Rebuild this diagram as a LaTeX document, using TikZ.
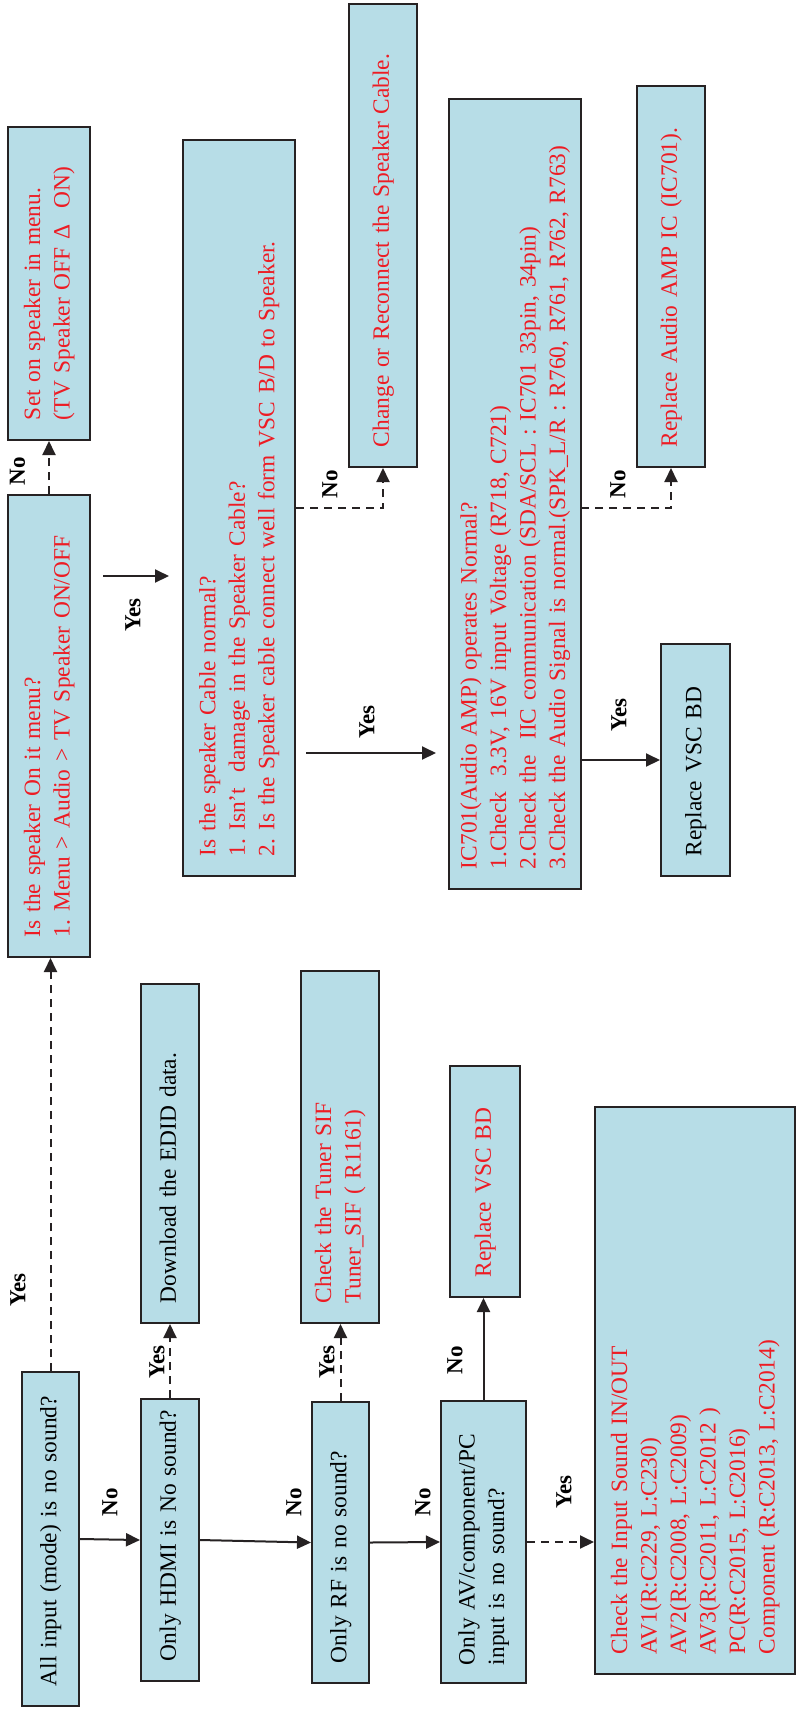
\documentclass[tikz,border=0pt]{standalone}
\usepackage{fontspec}
\setmainfont{Liberation Serif}
\usetikzlibrary{arrows.meta}
\frenchspacing
\definecolor{txtred}{RGB}{237,28,36}
\definecolor{boxfill}{RGB}{183,221,231}
\definecolor{edgecol}{RGB}{38,34,35}
\newcommand{\LNS}[1]{\begin{tabular}{@{}l@{}}#1\end{tabular}}
\tikzset{
  box/.style={draw=edgecol, line width=2pt, fill=boxfill, rotate=90, align=left,
    inner xsep=20pt, inner ysep=2pt, anchor=center, font=\fontsize{23.4}{29.5}\selectfont},
  redtext/.style={text=txtred},
  blacktext/.style={text=black},
  arr/.style={line width=2pt, draw=edgecol, -{Triangle[length=14pt,width=13pt]}},
  dsh/.style={arr, dash pattern=on 8pt off 6pt},
  lbl/.style={rotate=90, inner sep=0pt, font=\fontsize{23}{27}\selectfont\bfseries}
}
\begin{document}
\begin{tikzpicture}[x=1pt,y=1pt]
\useasboundingbox (0,0) rectangle (796,-1709);
\fill[white] (0,0) rectangle (796,-1709);

% bottom row of questions
\node[box, blacktext, minimum width=334pt, minimum height=57pt, text width=294pt] (A) at (50.5,-1539) {\LNS{All input (mode) is no sound?}};
\node[box, blacktext, minimum width=282pt, minimum height=58pt, text width=242pt] (H) at (170,-1540) {\LNS{Only HDMI is No sound?}};
\node[box, blacktext, minimum width=281pt, minimum height=57pt, text width=241pt] (R) at (340.5,-1542.5) {\LNS{Only RF is no sound?}};
\node[box, blacktext, minimum width=282pt, minimum height=85pt, text width=246pt, inner xsep=18pt] (AV) at (483.5,-1542) {\LNS{Only AV/component/PC\\input is no sound?}};

% results of bottom row
\node[box, blacktext, minimum width=339pt, minimum height=58pt, text width=299pt] (DL) at (170,-1153.5) {\LNS{Download the EDID data.}};
\node[box, redtext, minimum width=352pt, minimum height=78pt, text width=312pt] (TS) at (340,-1147) {\LNS{Check the Tuner SIF\\Tuner\_SIF ( R1161)}};
\node[box, redtext, minimum width=231pt, minimum height=70pt, text width=191pt] (RV2) at (485,-1181.5) {\LNS{Replace VSC BD}};
\node[box, redtext, minimum width=567pt, minimum height=200pt, text width=527pt] (BIG) at (695,-1390.5) {\LNS{Check the Input Sound IN/OUT\\AV1(R:C229, L:C230)\\AV2(R:C2008, L:C2009)\\AV3(R:C2011, L:C2012 )\\PC(R:C2015, L:C2016)\\Component (R:C2013, L:C2014)}};

% upper part
\node[box, redtext, minimum width=462pt, minimum height=82pt, text width=422pt] (S) at (49,-726) {\LNS{Is the speaker On it menu?\\1. Menu > Audio > TV Speaker ON/OFF}};
\node[box, redtext, minimum width=313pt, minimum height=82pt, text width=273pt] (SO) at (49,-283.5) {\LNS{Set on speaker in menu.\\(TV Speaker OFF Δ\ \ ON)}};
\node[box, redtext, minimum width=736pt, minimum height=112pt, text width=696pt] (CB) at (239,-508) {\LNS{Is the speaker Cable normal?\\1. Isn’t\ \ damage in the Speaker Cable?\\2. Is the Speaker cable connect well form VSC B/D to Speaker.}};
\node[box, redtext, minimum width=463pt, minimum height=68pt, text width=423pt] (CH) at (383,-235.5) {\LNS{Change or Reconnect the Speaker Cable.}};
\node[box, redtext, minimum width=790pt, minimum height=132pt, text width=750pt] (IC) at (515,-494) {\LNS{IC701(Audio AMP) operates Normal?\\1.Check\ \ 3.3V, 16V input Voltage (R718, C721)\\2.Check the\ \ IIC communication (SDA/SCL : IC701 33pin, 34pin)\\3.Check the Audio Signal is normal.(SPK\_L/R : R760, R761, R762, R763)}};
\node[box, redtext, minimum width=381pt, minimum height=68pt, text width=341pt] (RA) at (671,-276.5) {\LNS{Replace Audio AMP IC (IC701).}};
\node[box, blacktext, minimum width=232pt, minimum height=69pt, text width=192pt] (RV1) at (695.5,-760) {\LNS{Replace VSC BD}};

% connectors, bottom row
\draw[arr] (A.south) -- (H.north);
\draw[arr] (H.south) -- (R.north);
\draw[arr] (R.south) -- (AV.north);
\draw[dsh] (AV.south) -- (AV.south -| BIG.north);
\draw[dsh] (H.east) -- (H.east |- DL.west);
\draw[dsh] (R.east) -- (R.east |- TS.west);
\draw[arr] (AV.east) -- (AV.east |- RV2.west);
\draw[dsh] (A.east) -- (A.east |- S.west);

% connectors, upper part
\draw[dsh] (S.east) -- (S.east |- SO.west);
\coordinate (f1s) at (103,-576);
\coordinate (f1e) at (169,-576);
\draw[arr] (f1s) -- (f1e);
\draw[dsh] (CB.south) -| (CH.west);
\coordinate (f2s) at (306,-753);
\coordinate (f2e) at (436,-753);
\draw[arr] (f2s) -- (f2e);
\coordinate (icno) at (581,-508);
\draw[dsh] (icno) -| (RA.west);
\draw[arr] (RV1.north -| IC.south) -- (RV1.north);

% labels
\node[lbl] (l1) at (110,-1502) {No};
\node[lbl] (l2) at (294,-1502) {No};
\node[lbl] (l3) at (423,-1502) {No};
\node[lbl] (l4) at (564,-1492) {Yes};
\node[lbl] (l5) at (455,-1360) {No};
\node[lbl] (l6) at (157,-1362) {Yes};
\node[lbl] (l7) at (327,-1362) {Yes};
\node[lbl] (l8) at (18,-1290) {Yes};
\node[lbl] (l9) at (17.5,-471) {No};
\node[lbl] (l10) at (133,-615) {Yes};
\node[lbl] (l11) at (330,-484) {No};
\node[lbl] (l12) at (367,-722) {Yes};
\node[lbl] (l13) at (618,-484) {No};
\node[lbl] (l14) at (619,-715) {Yes};
\end{tikzpicture}
\end{document}
